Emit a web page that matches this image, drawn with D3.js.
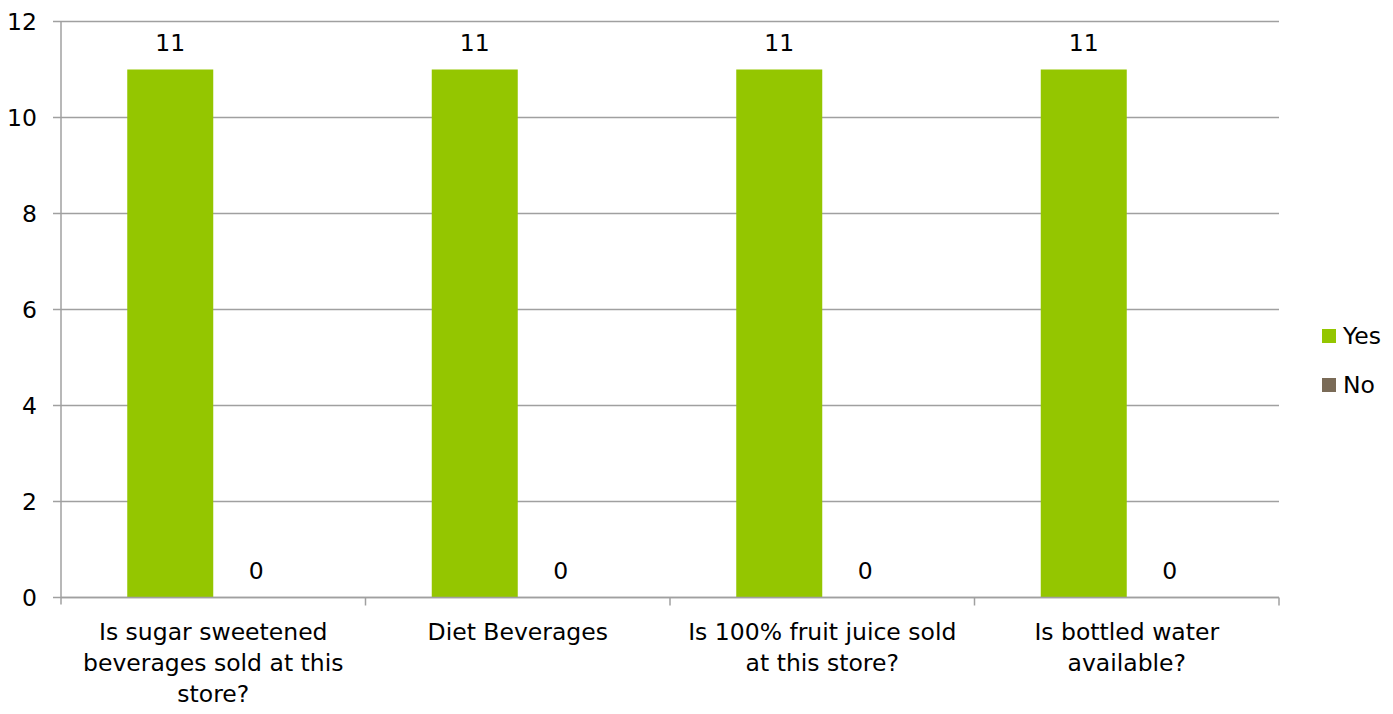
<!DOCTYPE html>
<html>
<head>
<meta charset="utf-8">
<script src="https://cdn.jsdelivr.net/npm/d3@7"></script>
<style>
  html, body { margin: 0; padding: 0; background: #fff; }
  svg { display: block; }
  text { font-family: "Century Gothic", "URW Gothic", "DejaVu Sans", sans-serif; fill: #000; }
</style>
</head>
<body>
<svg id="chart" width="1393" height="714"></svg>
<script>
// Survey question categories (x-axis labels, already split into lines)
const categories = [
  "Is sugar sweetened beverages sold at this store?",
  "Diet Beverages",
  "Is 100% fruit juice sold at this store?",
  "Is bottled water available?"
];
const categoryLines = [
  ["Is sugar sweetened", "beverages sold at this", "store?"],
  ["Diet Beverages"],
  ["Is 100% fruit juice sold", "at this store?"],
  ["Is bottled water", "available?"]
];
const seriesNames = ["Yes", "No"];
const yesValues = [11, 11, 11, 11];
const noValues = [0, 0, 0, 0];
const yTicks = [0, 2, 4, 6, 8, 10, 12];
const seriesColors = ["#94c600", "#7a6b57"];

const svg = d3.select("#chart");
const margin = { left: 61, right: 1279, top: 21.5, bottom: 597.5 };
const fontSize = 23.5;

const x = d3.scaleBand()
  .domain(categories)
  .range([margin.left, margin.right])
  .paddingInner(0)
  .paddingOuter(0);

const barWidth = 86;
const x1 = d3.scaleBand()
  .domain(seriesNames)
  .range([0, 2 * barWidth]);

const y = d3.scaleLinear().domain([0, 12]).range([margin.bottom, margin.top]);

const gridColor = "#a0a0a0";

// Horizontal gridlines with small outward ticks
svg.append("g")
  .selectAll("line")
  .data(yTicks)
  .join("line")
  .attr("x1", margin.left - 8)
  .attr("x2", margin.right)
  .attr("y1", d => y(d))
  .attr("y2", d => y(d))
  .attr("stroke", gridColor)
  .attr("stroke-width", 1.5);

// Y-axis tick labels
svg.append("g")
  .selectAll("text")
  .data(yTicks)
  .join("text")
  .attr("x", 37)
  .attr("y", d => y(d))
  .attr("dy", "0.35em")
  .attr("text-anchor", "end")
  .attr("font-size", fontSize)
  .text(d => d);

// Bars
const data = categories.map((c, i) => ({ cat: c, values: [yesValues[i], noValues[i]] }));
const groups = svg.append("g")
  .selectAll("g")
  .data(data)
  .join("g")
  .attr("transform", d => `translate(${x(d.cat) + x.bandwidth() / 2 - barWidth},0)`);

groups.selectAll("rect")
  .data(d => d.values.map((v, j) => ({ name: seriesNames[j], v, color: seriesColors[j] })))
  .join("rect")
  .attr("x", d => x1(d.name))
  .attr("width", x1.bandwidth())
  .attr("y", d => y(d.v))
  .attr("height", d => y(0) - y(d.v))
  .attr("fill", d => d.color);

// Value labels
groups.selectAll("text.val")
  .data(d => d.values.map((v, j) => ({ name: seriesNames[j], v })))
  .join("text")
  .attr("class", "val")
  .attr("x", d => x1(d.name) + x1.bandwidth() / 2)
  .attr("y", d => y(d.v) - 27)
  .attr("dy", "0.35em")
  .attr("text-anchor", "middle")
  .attr("font-size", fontSize)
  .text(d => d.v);

// Axes lines
svg.append("line")
  .attr("x1", margin.left).attr("x2", margin.left)
  .attr("y1", margin.top).attr("y2", margin.bottom + 7)
  .attr("stroke", gridColor).attr("stroke-width", 1.5);
svg.append("line")
  .attr("x1", margin.left).attr("x2", margin.right)
  .attr("y1", margin.bottom).attr("y2", margin.bottom)
  .attr("stroke", gridColor).attr("stroke-width", 1.5);

// Category boundary ticks
const boundaries = categories.map(c => x(c) + x.bandwidth());
svg.append("g")
  .selectAll("line")
  .data(boundaries)
  .join("line")
  .attr("x1", d => d).attr("x2", d => d)
  .attr("y1", margin.bottom).attr("y2", margin.bottom + 8)
  .attr("stroke", gridColor).attr("stroke-width", 1.5);

// Category labels
const catLabels = svg.append("g")
  .selectAll("text")
  .data(categories)
  .join("text")
  .attr("text-anchor", "middle")
  .attr("font-size", fontSize)
  .attr("transform", d => `translate(${x(d) + x.bandwidth() / 2},${632})`);
catLabels.selectAll("tspan")
  .data((d, i) => categoryLines[i])
  .join("tspan")
  .attr("x", 0)
  .attr("y", (d, i) => i * 31)
  .attr("dy", "0.35em")
  .text(d => d);

// Legend
const legend = svg.append("g")
  .selectAll("g")
  .data(seriesNames)
  .join("g")
  .attr("transform", (d, i) => `translate(1322,${336 + i * 49})`);
legend.append("rect")
  .attr("x", 0).attr("y", -7)
  .attr("width", 14).attr("height", 14)
  .attr("fill", (d, i) => seriesColors[i]);
legend.append("text")
  .attr("x", 21)
  .attr("y", 0)
  .attr("dy", "0.35em")
  .attr("font-size", fontSize)
  .text(d => d);
</script>
</body>
</html>
